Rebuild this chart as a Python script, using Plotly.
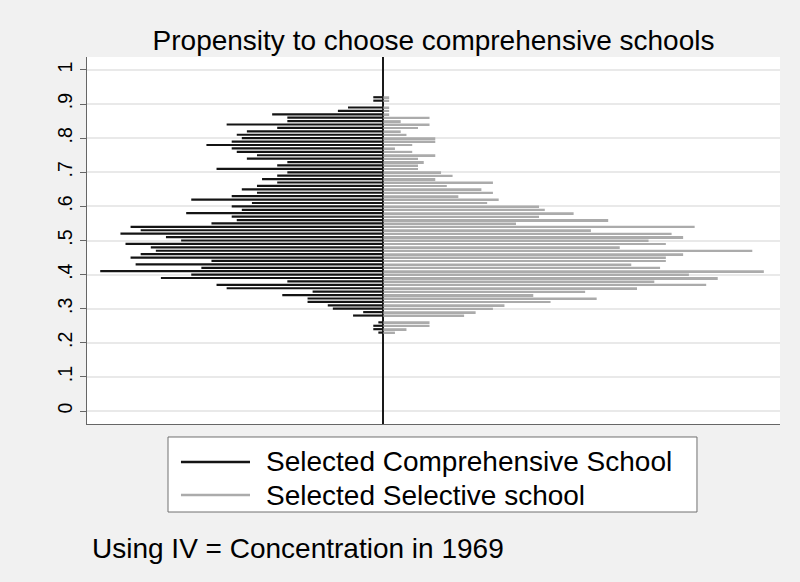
import plotly.graph_objects as go

# Bin centres (propensity score), bin width 0.01
bins = [0.23, 0.24, 0.25, 0.26, 0.27, 0.28, 0.29, 0.30, 0.31, 0.32,
        0.33, 0.34, 0.35, 0.36, 0.37, 0.38, 0.39, 0.40, 0.41, 0.42,
        0.43, 0.44, 0.45, 0.46, 0.47, 0.48, 0.49, 0.50, 0.51, 0.52,
        0.53, 0.54, 0.55, 0.56, 0.57, 0.58, 0.59, 0.60, 0.61, 0.62,
        0.63, 0.64, 0.65, 0.66, 0.67, 0.68, 0.69, 0.70, 0.71, 0.72,
        0.73, 0.74, 0.75, 0.76, 0.77, 0.78, 0.79, 0.80, 0.81, 0.82,
        0.83, 0.84, 0.85, 0.86, 0.87, 0.88, 0.89, 0.90, 0.91, 0.92]

# Counts per bin, pupils who selected a comprehensive school
comprehensive = [1, 2, 2, 1, 0, 6, 4, 10, 11, 15,
                 15, 20, 14, 31, 33, 19, 44, 38, 56, 36,
                 49, 34, 50, 48, 45, 46, 51, 40, 43, 52,
                 48, 50, 34, 29, 30, 39, 28, 30, 26, 38,
                 30, 25, 28, 25, 21, 24, 21, 19, 33, 21,
                 19, 27, 25, 29, 30, 35, 30, 28, 29, 27,
                 21, 31, 19, 19, 22, 9, 7, 0, 2, 2]

# Counts per bin, pupils who selected a selective school
selective = [2, 4, 8, 8, 0, 14, 16, 19, 21, 29,
             37, 26, 35, 44, 56, 47, 58, 53, 66, 48,
             43, 49, 49, 52, 64, 41, 49, 46, 52, 50,
             36, 54, 23, 39, 27, 33, 28, 27, 18, 20,
             13, 19, 17, 11, 19, 9, 12, 10, 6, 6,
             7, 6, 9, 5, 2, 5, 9, 9, 4, 3,
             6, 8, 3, 8, 1, 1, 1, 0, 1, 1]

series_names = ["Selected Comprehensive School", "Selected Selective school"]
series_colors = ["#141414", "#ababab"]

tick_vals = [0, 0.1, 0.2, 0.3, 0.4, 0.5, 0.6, 0.7, 0.8, 0.9, 1.0]
tick_text = ["0", ".1", ".2", ".3", ".4", ".5", ".6", ".7", ".8", ".9", "1"]

title_text = "Propensity to choose comprehensive schools"
note_text = "Using IV = Concentration in 1969"

bin_width = 0.01
n_comp = sum(comprehensive)
n_sel = sum(selective)
dens_comp = [-c / (n_comp * bin_width) for c in comprehensive]
dens_sel = [c / (n_sel * bin_width) for c in selective]

FONT = "Liberation Sans, Arial, Helvetica, sans-serif"

fig = go.Figure()
fig.add_trace(go.Bar(
    y=bins, x=dens_comp, orientation="h", width=0.0064,
    marker=dict(color=series_colors[0], line=dict(width=0)),
    name=series_names[0], showlegend=False, hoverinfo="skip",
))
fig.add_trace(go.Bar(
    y=bins, x=dens_sel, orientation="h", width=0.0058,
    marker=dict(color=series_colors[1], line=dict(width=0)),
    name=series_names[1], showlegend=False, hoverinfo="skip",
))

# Legend drawn as in the original: a box with line samples
leg_x0, leg_x1 = 0.1169, 0.8802
leg_y0, leg_y1 = -0.0354, -0.2398
row_y = [-0.1035, -0.1935]
shapes = [dict(type="rect", xref="paper", yref="paper",
               x0=leg_x0, x1=leg_x1, y0=leg_y1, y1=leg_y0,
               line=dict(color="#707070", width=1), fillcolor="#ffffff",
               layer="above")]
annotations = []
for name, col, ry in zip(series_names, series_colors, row_y):
    shapes.append(dict(type="line", xref="paper", yref="paper",
                       x0=0.1356, x1=0.2352, y0=ry, y1=ry,
                       line=dict(color=col, width=2.5), layer="above"))
    annotations.append(dict(text=name, xref="paper", yref="paper",
                            x=0.2555, y=ry, xanchor="left", yanchor="middle",
                            showarrow=False,
                            font=dict(size=28, family=FONT, color="#000000")))
annotations.append(dict(text=note_text, xref="paper", yref="paper",
                        x=0.004, y=-0.338, xanchor="left", yanchor="middle",
                        showarrow=False,
                        font=dict(size=28, family=FONT, color="#000000")))

fig.update_layout(
    width=800, height=582,
    margin=dict(l=87, r=20, t=57, b=158),
    paper_bgcolor="#f1f1f1",
    plot_bgcolor="#ffffff",
    barmode="overlay",
    showlegend=False,
    font=dict(family=FONT, color="#000000", size=28),
    title=dict(text=title_text,
               x=0.5, xref="paper", xanchor="center",
               y=1 - 40 / 582, yanchor="middle",
               font=dict(size=28, family=FONT, color="#000000")),
    xaxis=dict(range=[-3.21, 4.295], showticklabels=False, ticks="",
               showgrid=False, zeroline=True, zerolinecolor="#1a1a1a",
               zerolinewidth=1.6, showline=True, linecolor="#666666",
               linewidth=1.3, fixedrange=True),
    yaxis=dict(range=[-0.038, 1.038], tickvals=tick_vals, ticktext=tick_text,
               tickangle=-90, tickfont=dict(size=19.5, family=FONT),
               ticks="outside", ticklen=6, tickcolor="#666666", tickwidth=1.2,
               showgrid=True, gridcolor="#e9e9e9", gridwidth=1.5,
               zeroline=False, showline=True, linecolor="#666666",
               linewidth=1.3),
    shapes=shapes,
    annotations=annotations,
)

fig.write_html(
    "out.html",
    config={"displayModeBar": False},
    post_script="document.body.style.margin='0px';"
                "document.body.style.background='#f1f1f1';",
)
